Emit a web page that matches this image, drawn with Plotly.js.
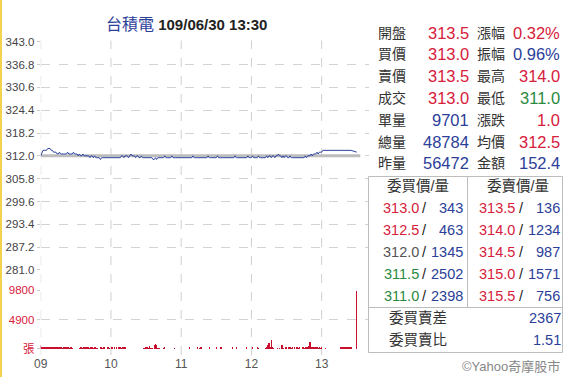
<!DOCTYPE html>
<html>
<head>
<meta charset="utf-8">
<script src="https://cdn.plot.ly/plotly-3.0.1.min.js"></script>
<style>
html,body{margin:0;padding:0;background:#fff;}
#chart{width:568px;height:377px;}
</style>
</head>
<body>
<div id="chart"></div>
<script>
// ---------- data ----------
const stockName = '台積電';
const stamp = '109/06/30 13:30';
const prevClose = 312.0;
const hourTicks = [0, 60, 120, 180, 240];
const hourLabels = ['09', '10', '11', '12', '13'];
const priceTicks = [281.0, 287.2, 293.4, 299.6, 305.8, 312.0, 318.2, 324.4, 330.6, 336.8, 343.0];
const volTicks = [0, 4900, 9800];
const volTickLabels = ['張', '4900', '9800'];

// per-minute prices 09:00 .. 13:25, then the 13:30 closing trade
const prices = [
 312.0,313.0,313.5,313.5,313.5,313.5,314.0,314.0,314.0,313.5,
 313.5,313.0,313.0,313.0,312.5,312.5,313.0,312.5,312.5,312.5,
 312.5,312.5,312.5,313.0,312.5,312.5,312.5,312.5,313.0,312.5,
 312.5,312.5,312.0,312.5,312.0,312.0,312.5,312.0,312.0,312.0,
 312.0,312.0,311.5,312.0,312.0,311.5,312.0,311.5,311.5,311.5,
 311.5,311.0,311.5,311.5,311.5,311.5,311.5,311.5,311.5,311.5,
 311.5,311.5,311.5,311.5,311.5,311.5,311.5,311.5,311.5,312.0,
 312.0,311.5,312.0,312.0,312.0,311.5,312.0,312.5,312.0,312.0,
 312.0,311.5,312.0,312.0,311.5,311.5,312.0,311.5,311.5,311.5,
 311.5,311.5,311.5,311.5,311.5,311.5,311.0,311.0,311.5,311.0,
 311.5,311.5,311.5,311.5,311.5,311.5,312.0,311.5,311.5,311.5,
 311.5,311.5,312.0,311.5,311.5,311.5,311.5,311.5,311.5,311.5,
 311.5,311.5,311.5,311.5,311.5,311.5,311.5,311.5,311.5,311.5,
 312.0,311.5,311.5,311.5,311.5,311.5,311.5,311.5,311.5,311.5,
 311.5,311.5,311.5,312.0,311.5,311.5,311.5,311.5,311.5,311.5,
 311.5,312.0,311.5,311.5,311.5,311.5,311.5,311.5,311.5,311.5,
 311.5,311.5,311.5,311.5,311.5,311.5,312.0,311.5,311.5,311.5,
 311.5,311.5,311.5,311.5,311.5,311.5,311.5,312.0,311.5,311.5,
 311.5,312.0,311.5,311.5,311.5,311.5,312.0,311.5,311.5,311.5,
 311.5,311.5,311.5,312.0,311.5,312.0,312.0,311.5,312.0,312.0,
 311.5,312.0,312.0,312.5,312.0,312.0,311.5,312.0,311.5,312.0,
 312.0,311.5,311.5,312.0,311.5,311.5,311.5,311.5,311.5,311.5,
 311.5,311.5,311.5,311.5,311.5,311.5,312.0,311.5,312.0,312.0,
 312.0,312.5,312.0,312.5,312.5,312.5,313.0,312.5,313.0,313.0,
 313.0,313.5,313.5,313.5,313.5,313.5,313.5,313.5,313.5,313.5,
 313.5,313.5,313.5,313.5,313.5,313.5,313.5,313.5,313.5,313.5,
 313.5,313.5,313.5,313.5,313.5,313.5
];
const volumes = [
 650,350,300,380,250,320,300,380,250,300,
 300,360,250,330,300,250,350,300,250,200,
 300,250,300,330,250,200,250,120,80,60,
 50,80,60,120,300,250,200,330,250,300,
 250,350,200,300,250,120,300,250,120,80,
 60,300,250,120,330,60,80,250,300,120,
 50,250,80,300,60,250,80,350,300,120,
 250,300,350,60,50,80,60,40,50,60,
 40,50,60,40,50,80,60,50,120,200,
 350,300,120,450,200,120,80,600,850,700,
 200,120,80,60,50,120,300,80,60,50,
 40,60,50,80,200,60,40,50,60,40,
 50,40,60,50,40,80,60,250,50,40,
 60,40,50,40,250,60,200,250,50,40,
 60,50,40,60,250,50,40,60,50,40,
 250,60,40,50,250,60,40,50,40,60,
 40,50,60,40,250,50,40,300,60,40,
 50,40,60,40,50,60,250,40,50,40,
 60,250,50,40,60,300,200,60,40,50,
 60,40,200,350,600,1050,400,1500,300,120,
 60,80,120,60,200,80,660,120,60,300,
 250,80,300,350,120,330,60,300,80,250,
 120,300,60,80,300,120,350,400,300,500,
 1200,400,350,300,380,350,300,120,350,200,
 300,80,60,120,60,50,40,60,50,40,
 60,50,40,50,60,40,250,250,300,250,
 250,300,250,250,300,350
];
const closeMinute = 270;
const closePrice = 313.0;
const closeVolume = 9701;
const refLineEnd = 273;

// quote table
const leftLabels = ['開盤','買價','賣價','成交','單量','總量','昨量'];
const leftValues = ['313.5','313.0','313.5','313.0','9701','48784','56472'];
const leftKinds = ['up','up','up','up','vol','vol','vol'];
const rightLabels = ['漲幅','振幅','最高','最低','漲跌','均價','金額'];
const rightValues = ['0.32%','0.96%','314.0','311.0','1.0','312.5','152.4'];
const rightKinds = ['up','vol','up','down','up','up','vol'];

// order book
const bookHeaders = ['委買價/量', '委賣價/量'];
const bidPrices = [313.0, 312.5, 312.0, 311.5, 311.0];
const bidVols = [343, 463, 1345, 2502, 2398];
const askPrices = [313.5, 314.0, 314.5, 315.0, 315.5];
const askVols = [136, 1234, 987, 1571, 756];
const summaryLabels = ['委買賣差', '委買賣比'];
const summaryValues = ['2367', '1.51'];
const footer = '©Yahoo奇摩股市';

// ---------- styling ----------
const W = 568, H = 377;
const RED = '#d7203b', BLUE = '#2b3e98', GREEN = '#2a8a3e', GRAYTXT = '#555', LBL = '#333';
const FONT = '"Liberation Sans", "Noto Sans CJK TC", Arial, sans-serif';
const kindColor = {up: RED, down: GREEN, vol: BLUE, flat: GRAYTXT};
const px = x => x / W;
const py = y => 1 - y / H;
const priceColor = p => p > prevClose ? RED : (p < prevClose ? GREEN : GRAYTXT);

// ---------- traces ----------
const tIdx = prices.map((_, i) => i);
const xs = tIdx.concat([closeMinute]);
const ys = prices.concat([closePrice]);
const vs = volumes.concat([closeVolume]);

const traces = [
  {type: 'scatter', mode: 'lines', x: [0, refLineEnd], y: [prevClose, prevClose],
   xaxis: 'x', yaxis: 'y', line: {color: '#bdbdbd', width: 3}, hoverinfo: 'skip'},
  {type: 'scatter', mode: 'lines', x: xs, y: ys, xaxis: 'x', yaxis: 'y',
   line: {color: '#2d44a0', width: 1}},
  {type: 'bar', x: xs, y: vs, xaxis: 'x', yaxis: 'y2', width: 1.1,
   marker: {color: '#c8102e', line: {width: 0}}}
];

// ---------- annotations ----------
const ann = [];
function txt(x, y, text, color, anchor, size, extra) {
  ann.push(Object.assign({xref: 'paper', yref: 'paper', x: px(x), y: py(y), text: text,
    showarrow: false, xanchor: anchor, yanchor: 'middle', borderpad: 0,
    font: {family: FONT, size: size || 14, color: color}}, extra || {}));
}
txt(186, 25, '<span style="color:' + BLUE + ';font-size:16px">' + stockName + '</span> <b>' + stamp + '</b>', '#222', 'center', 15);

const rowY0 = 32.5, rowDY = 21.8;
leftLabels.forEach((l, i) => {
  const y = rowY0 + i * rowDY;
  txt(377, y, l, LBL, 'left', 14);
  txt(470, y, leftValues[i], kindColor[leftKinds[i]], 'right', 16.5);
  txt(476, y, rightLabels[i], LBL, 'left', 14);
  txt(561, y, rightValues[i], kindColor[rightKinds[i]], 'right', 16.5);
});

txt(418, 186, bookHeaders[0], LBL, 'center', 14.5);
txt(518, 186, bookHeaders[1], LBL, 'center', 14.5);
const bookY0 = 208.3, bookDY = 22;
bidPrices.forEach((p, i) => {
  const y = bookY0 + i * bookDY;
  txt(420, y, p.toFixed(1), priceColor(p), 'right', 14.5);
  txt(425, y, '/', '#222', 'center', 14.5);
  txt(464, y, String(bidVols[i]), BLUE, 'right', 14.5);
  txt(516, y, askPrices[i].toFixed(1), priceColor(askPrices[i]), 'right', 14.5);
  txt(521, y, '/', '#222', 'center', 14.5);
  txt(561, y, String(askVols[i]), BLUE, 'right', 14.5);
});
summaryLabels.forEach((l, i) => {
  const y = 318 + i * 22;
  txt(388, y, l, LBL, 'left', 14.5);
  txt(562, y, summaryValues[i], BLUE, 'right', 14.5);
});
txt(561, 366, footer, '#888', 'right', 13);

// ---------- shapes ----------
const shapes = [];
shapes.push({type: 'rect', xref: 'paper', yref: 'paper', x0: 0, x1: px(2), y0: 0, y1: 1,
  fillcolor: '#f2d34b', line: {width: 0}, layer: 'above'});
hourTicks.forEach(h => shapes.push({type: 'line', xref: 'x', yref: 'paper', x0: h, x1: h,
  y0: py(355), y1: py(40.5), line: {color: '#cfcfcf', width: 1, dash: 'dash'}, layer: 'below'}));
const boxC = '#bdbdbd';
shapes.push({type: 'rect', xref: 'paper', yref: 'paper', x0: px(368.5), x1: px(562.5),
  y0: py(352.5), y1: py(176.5), line: {color: boxC, width: 1}});
shapes.push({type: 'line', xref: 'paper', yref: 'paper', x0: px(467.5), x1: px(467.5),
  y0: py(307.5), y1: py(176.5), line: {color: boxC, width: 1}});
shapes.push({type: 'line', xref: 'paper', yref: 'paper', x0: px(368.5), x1: px(562.5),
  y0: py(307.5), y1: py(307.5), line: {color: boxC, width: 1}});

const tickFont = {family: FONT, size: 11.5, color: '#444'};
const layout = {
  width: W, height: H, autosize: false,
  margin: {l: 0, r: 0, t: 0, b: 0, pad: 0},
  paper_bgcolor: '#fff', plot_bgcolor: 'rgba(0,0,0,0)',
  showlegend: false, hovermode: false, bargap: 0,
  xaxis: {domain: [px(40.7), px(368.5)], range: [0, 280], anchor: 'y2',
    tickmode: 'array', tickvals: hourTicks, ticktext: hourLabels,
    showgrid: false, zeroline: false, showline: false,
    ticks: 'outside', ticklen: 4, tickcolor: 'rgba(0,0,0,0)',
    tickfont: {family: FONT, size: 12, color: '#555'}, fixedrange: true},
  yaxis: {domain: [py(270), py(41.7)], range: [280.98, 343.02], anchor: 'x',
    tickmode: 'array', tickvals: priceTicks, ticktext: priceTicks.map(v => v.toFixed(1)),
    showgrid: true, gridcolor: '#d3d3d3', griddash: 'dash', gridwidth: 1,
    zeroline: false, showline: false, ticks: 'outside', ticklen: 3, tickcolor: '#ccc',
    tickfont: tickFont, fixedrange: true},
  yaxis2: {domain: [py(349), py(290)], range: [-2, 9802], anchor: 'x',
    tickmode: 'array', tickvals: volTicks, ticktext: volTickLabels,
    showgrid: true, gridcolor: '#d3d3d3', griddash: 'dash', gridwidth: 1,
    zeroline: false, showline: false, ticks: 'outside', ticklen: 3, tickcolor: '#ccc',
    tickfont: {family: FONT, size: 11.5, color: RED}, fixedrange: true},
  annotations: ann,
  shapes: shapes
};

Plotly.newPlot('chart', traces, layout, {staticPlot: true, displayModeBar: false});
</script>
</body>
</html>
